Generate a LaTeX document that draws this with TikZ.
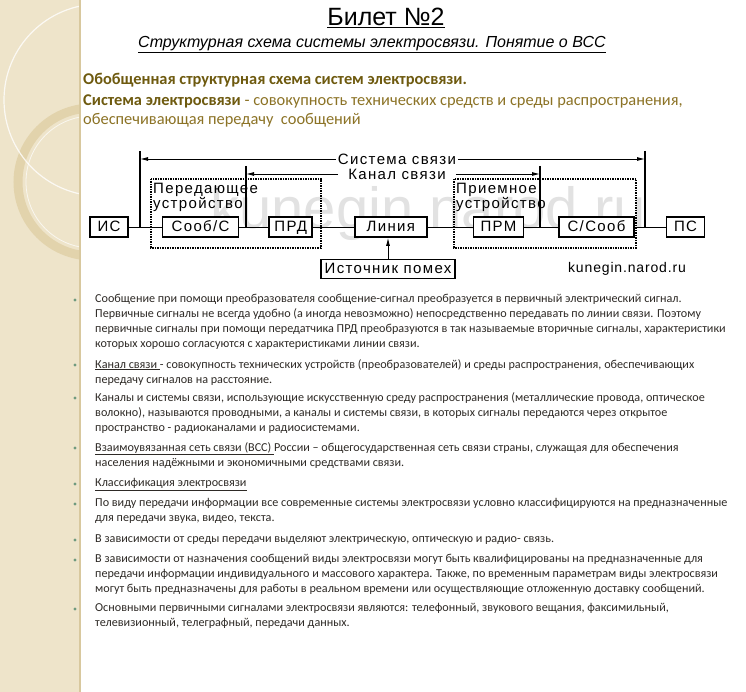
\documentclass[tikz,border=0pt]{standalone}
\usepackage{fontspec}
\setmainfont{Carlito}
\newfontfamily\arialfont{Liberation Sans}
\newfontfamily\diagfont[LetterSpace=9]{Liberation Sans}
\newfontfamily\sitefont[LetterSpace=6]{Liberation Sans}
\usetikzlibrary{positioning, arrows.meta, calc}

\definecolor{sidebar}{HTML}{EEE4CA}
\definecolor{sideedge}{HTML}{D8C89E}
\definecolor{ringc}{HTML}{E2D3AC}
\definecolor{headc}{HTML}{6E5A0F}
\definecolor{headlight}{HTML}{8C7326}
\definecolor{bodyc}{HTML}{2E2A26}
\definecolor{bulletc}{HTML}{6F9A7E}
\definecolor{wmark}{HTML}{E2E2E2}

\begin{document}
\begin{tikzpicture}[x=1pt, y=-1pt,
        block/.style={draw, line width=1.6pt, fill=white, minimum height=20pt, inner sep=0pt,
                      text height=11pt, text depth=2pt,
                      font=\diagfont\fontsize{15}{16}\selectfont},
        device/.style={draw, densely dotted, line width=1.5pt},
        devlabel/.style={anchor=north west, inner sep=0pt, align=left,
                         font=\diagfont\fontsize{15}{13}\selectfont},
        lbl/.style={inner sep=2pt, font=\diagfont\fontsize{15}{16}\selectfont},
        link/.style={line width=0.9pt},
        arrow/.style={-{Latex[length=8pt, width=4pt]}, line width=0.9pt},
        head/.style={anchor=base west, inner sep=0pt, font=\fontsize{16.4}{19}\selectfont},
        para/.style={anchor=north west, inner sep=0pt, align=left, text=bodyc,
                     font=\fontsize{12.15}{15}\selectfont}
    ]

    % slide background
    \useasboundingbox (0,0) rectangle (746,692);
    \fill[white] (0,0) rectangle (746,692);
    \fill[sidebar] (0,0) rectangle (80,692);
    \begin{scope}
        \clip (0,0) rectangle (80,692);
        \draw[ringc, line width=9pt] (92,182) circle (74);
        \draw[white, line width=1.2pt, opacity=0.8] (100,100) circle (96);
        \draw[white, line width=0.8pt, opacity=0.7] (92,182) circle (66);
    \end{scope}
    \draw[sideedge, line width=1.2pt] (80,0) -- (80,692);

    % titles
    \node[font=\arialfont\fontsize{25}{30}\selectfont] (title) at (386,18) {\underline{Билет №2}};
    \node[font=\arialfont\itshape\fontsize{16}{19}\selectfont] (subtitle) at (372,45)
        {\underline{Структурная схема системы электросвязи. Понятие о ВСС}};

    \node[head, text=headc] (h1) at (83,85) {\textbf{Обобщенная структурная схема систем электросвязи.}};
    \node[head, text=headc] (h2) at (83,106) {\textbf{Система электросвязи} \textcolor{headlight}{- совокупность технических средств и среды распространения,}};
    \node[head, text=headlight] (h3) at (83,125) {обеспечивающая передачу\ \ сообщений};

    % watermark
    \node[wmark, font=\arialfont\fontsize{58}{60}\selectfont] (wm) at (428,214) {kunegin.narod.ru};

    % block chain
    \node[block, minimum width=38pt] (is) at (109,227) {ИС};
    \node[block, minimum width=76pt, right=33pt of is] (coder) {Сооб/С};
    \node[block, minimum width=43pt, right=29pt of coder] (prd) {ПРД};
    \node[block, minimum width=72pt, right=41pt of prd] (line) {Линия};
    \node[block, minimum width=50pt, right=45pt of line] (prm) {ПРМ};
    \node[block, minimum width=75pt, right=34pt of prm] (decoder) {С/Сооб};
    \node[block, minimum width=38pt, right=31pt of decoder] (ps) {ПС};
    \node[block, minimum width=134pt, minimum height=19pt] (noise) at (388,269) {Источник помех};

    \draw[link] (is) -- (coder);
    \draw[link] (coder) -- (prd);
    \draw[link] (prd) -- (line);
    \draw[link] (line) -- (prm);
    \draw[link] (prm) -- (decoder);
    \draw[link] (decoder) -- (ps);
    \draw[arrow] (noise) -- (noise |- line.south);

    % transmitter and receiver
    \draw[device] (151,179) rectangle (321,248);
    \node[devlabel] (txlabel) at (153,183) {Передающее\\устройство};
    \draw[device] (454,179) rectangle (636,248);
    \node[devlabel] (rxlabel) at (456,183) {Приемное\\устройство};

    % system and channel bounds
    \coordinate (sysL) at (140,151);
    \coordinate (sysR) at (645,151);
    \coordinate (chanL) at (246,166);
    \coordinate (chanR) at (540,166);
    \draw[line width=1.4pt] (sysL) -- (sysL |- is.east);
    \draw[line width=1.4pt] (sysR) -- (sysR |- ps.west);
    \draw[line width=1.4pt] (chanL) -- (chanL |- prd.west);
    \draw[line width=1.4pt] (chanR) -- (chanR |- prm.east);

    \node[lbl] (sys) at (397,159) {Система связи};
    \node[lbl, inner xsep=10pt] (chan) at (397,174) {Канал связи};
    \draw[arrow] (sys.west) -- (sys.west -| sysL);
    \draw[arrow] (sys.east) -- (sys.east -| sysR);
    \draw[arrow] (chan.west) -- (chan.west -| chanL);
    \draw[arrow] (chan.east) -- (chan.east -| chanR);

    \node[font=\sitefont\fontsize{14}{16}\selectfont] (site) at (627,269) {kunegin.narod.ru};

    % bullet list
    \foreach \y in {300,365,398,448,484,504,540,560,609}
        \fill[bulletc] (75,\y) circle (1.7);

    \node[para] (b1) at (95,294) {Сообщение при помощи преобразователя сообщение-сигнал преобразуется в первичный электрический сигнал.\\
        Первичные сигналы не всегда удобно (а иногда невозможно) непосредственно передавать по линии связи. Поэтому\\
        первичные сигналы при помощи передатчика ПРД преобразуются в так называемые вторичные сигналы, характеристики\\
        которых хорошо согласуются с характеристиками линии связи.};
    \node[para] (b2) at (95,359) {\underline{Канал связи }- совокупность технических устройств (преобразователей) и среды распространения, обеспечивающих\\
        передачу сигналов на расстояние.};
    \node[para] (b3) at (95,392) {Каналы и системы связи, использующие искусственную среду распространения (металлические провода, оптическое\\
        волокно), называются проводными, а каналы и системы связи, в которых сигналы передаются через открытое\\
        пространство - радиоканалами и радиосистемами.};
    \node[para] (b4) at (95,442) {\underline{Взаимоувязанная сеть связи (ВСС) }России – общегосударственная сеть связи страны, служащая для обеспечения\\
        населения надёжными и экономичными средствами связи.};
    \node[para] (b5) at (95,478) {\underline{Классификация электросвязи}};
    \node[para] (b6) at (95,498) {По виду передачи информации все современные системы электросвязи условно классифицируются на предназначенные\\
        для передачи звука, видео, текста.};
    \node[para] (b7) at (95,534) {В зависимости от среды передачи выделяют электрическую, оптическую и радио- связь.};
    \node[para] (b8) at (95,554) {В зависимости от назначения сообщений виды электросвязи могут быть квалифицированы на предназначенные для\\
        передачи информации индивидуального и массового характера. Также, по временным параметрам виды электросвязи\\
        могут быть предназначены для работы в реальном времени или осуществляющие отложенную доставку сообщений.};
    \node[para] (b9) at (95,603) {Основными первичными сигналами электросвязи являются: телефонный, звукового вещания, факсимильный,\\
        телевизионный, телеграфный, передачи данных.};

\end{tikzpicture}
\end{document}
